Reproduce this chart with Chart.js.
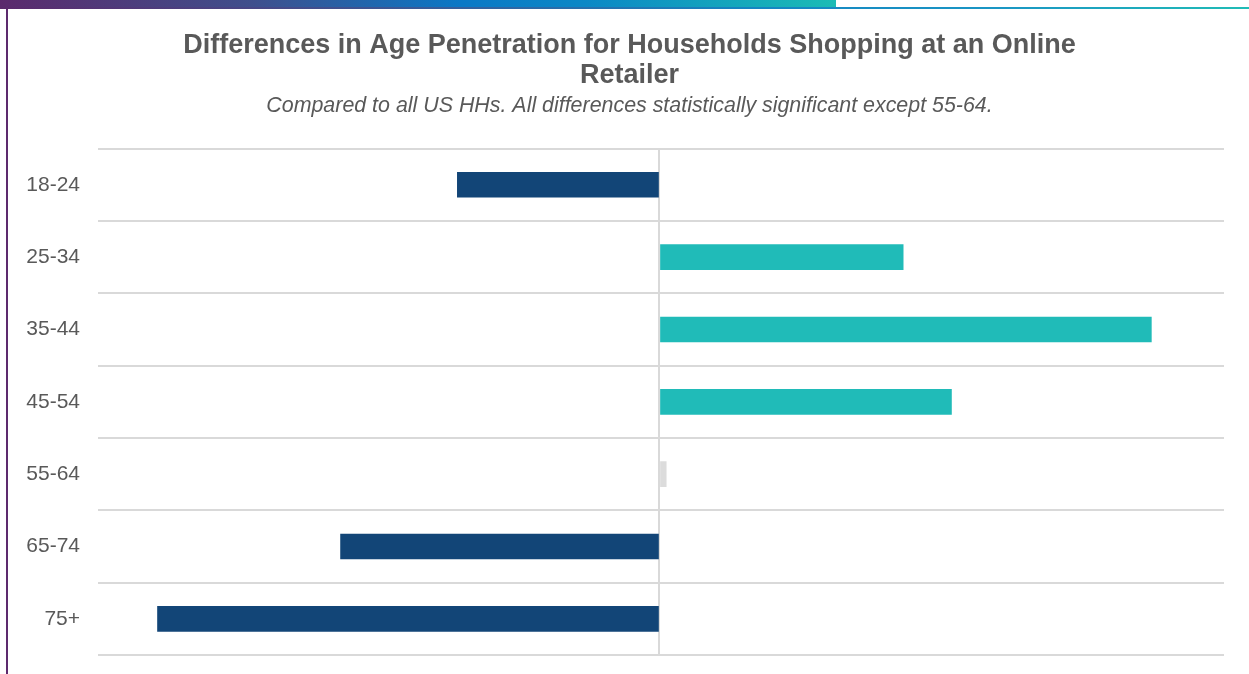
<!DOCTYPE html>
<html>
<head>
<meta charset="utf-8">
<title>Differences in Age Penetration</title>
<script src="https://cdn.jsdelivr.net/npm/chart.js@4.4.1/dist/chart.umd.min.js"></script>
<style>
  html, body { margin: 0; padding: 0; background: #ffffff; overflow: hidden; }
  #wrap { position: relative; width: 1249px; height: 674px; }
  #band { position: absolute; left: 0; top: 0; width: 836px; height: 7px;
          background: linear-gradient(90deg, #5b2a6c 0%, #3f4f8c 30%, #0a78c6 55%, #0b88c6 70%, #1bbcb5 100%); }
  #rule { position: absolute; left: 0; top: 7px; width: 1249px; height: 2px;
          background: linear-gradient(90deg, #5b2a6c 0%, #3e5592 30%, #1585c2 60%, #1a96c4 80%, #20bcb6 100%); }
  #side { position: absolute; left: 6px; top: 9px; width: 2px; height: 665px; background: #5d2a6e; }
  #chart { position: absolute; left: 0; top: 0; }
</style>
</head>
<body>
<div id="wrap">
  <canvas id="chart" width="1249" height="674"></canvas>
  <div id="band"></div>
  <div id="rule"></div>
  <div id="side"></div>
</div>
<script>
// Age bands and difference in penetration vs. all US households (percentage points)
const ageGroups = ['18-24', '25-34', '35-44', '45-54', '55-64', '65-74', '75+'];
const differences = [-1.80, 2.17, 4.38, 2.60, 0.06, -2.84, -4.47];
// 55-64 is the only difference that is not statistically significant
const significant = [true, true, true, true, false, true, true];

const titleLines = ['Differences in Age Penetration for Households Shopping at an Online', 'Retailer'];
const subtitleText = 'Compared to all US HHs. All differences statistically significant except 55-64.';

const NAVY = '#124577';
const TEAL = '#20bbb8';
const GREY = '#dcdcdc';

const barColors = differences.map((v, i) => !significant[i] ? GREY : (v < 0 ? NAVY : TEAL));
const FONT = '"Liberation Sans", Arial, sans-serif';

new Chart(document.getElementById('chart'), {
  type: 'bar',
  data: {
    labels: ageGroups,
    datasets: [{
      data: differences,
      backgroundColor: barColors,
      borderWidth: 0,
      barThickness: 25
    }]
  },
  options: {
    indexAxis: 'y',
    responsive: false,
    animation: false,
    layout: { padding: { left: 10, right: 0, top: 8, bottom: 19 } },
    plugins: {
      legend: { display: false },
      tooltip: { enabled: false },
      title: {
        display: true,
        text: titleLines,
        color: '#595959',
        font: { family: FONT, size: 27, weight: 'bold', lineHeight: 1.11 },
        padding: { top: 23, bottom: 0 }
      },
      subtitle: {
        display: true,
        text: subtitleText,
        color: '#595959',
        font: { family: FONT, size: 21.4, style: 'italic', lineHeight: 1.2 },
        padding: { top: 2, bottom: 30 }
      }
    },
    scales: {
      x: {
        min: -5,
        max: 5.027,
        ticks: { display: false, stepSize: 5 },
        border: { display: false },
        grid: {
          drawTicks: false,
          lineWidth: 2,
          color: ctx => (ctx.tick && ctx.tick.value === 0) ? '#d9d9d9' : 'rgba(0,0,0,0)'
        }
      },
      y: {
        offset: true,
        border: { display: false },
        grid: { offset: true, drawTicks: false, lineWidth: 2, color: '#d9d9d9' },
        ticks: {
          padding: 18,
          color: '#595959',
          font: { family: FONT, size: 21 }
        },
        afterFit: s => {
          s.width = 88;
          // labels sit inside their bands, so no extra room above/below is needed
          s.paddingTop = 0;
          s.paddingBottom = 0;
        }
      },
      yRight: {
        type: 'linear',
        position: 'right',
        display: true,
        ticks: { display: false },
        grid: { display: false },
        border: { display: false },
        afterFit: s => { s.width = 25; }
      }
    }
  }
});
</script>
</body>
</html>
